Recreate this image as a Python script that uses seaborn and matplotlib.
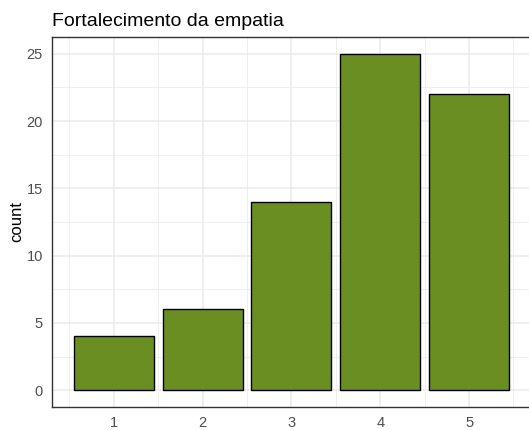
import matplotlib
matplotlib.use("Agg")
import matplotlib.pyplot as plt
import seaborn as sns
import pandas as pd
from matplotlib.ticker import MultipleLocator

# Response levels and how many answers fell into each
levels = [1, 2, 3, 4, 5]
counts = [4, 6, 14, 25, 22]

df = pd.DataFrame({"nivel": levels, "count": counts})

sns.set_theme(style="white")
plt.rcParams["font.family"] = ["Liberation Sans", "DejaVu Sans"]

fig = plt.figure(figsize=(5.29, 4.30), dpi=100)
ax = fig.add_axes([52 / 529, 1 - 407 / 430, 481 / 529, 370 / 430])

sns.barplot(data=df, x="nivel", y="count", native_scale=True, width=0.9,
            color="#6B8E23", saturation=1, edgecolor="black", linewidth=1.0,
            ax=ax, zorder=3)

ax.set_xlim(0.305, 5.72)
ax.set_ylim(-1.25, 26.25)
ax.xaxis.set_major_locator(MultipleLocator(1))
ax.xaxis.set_minor_locator(MultipleLocator(0.5))
ax.yaxis.set_major_locator(MultipleLocator(5))
ax.yaxis.set_minor_locator(MultipleLocator(2.5))

ax.grid(which="major", color="#EBEBEB", linewidth=1.1, zorder=0)
ax.grid(which="minor", color="#EBEBEB", linewidth=0.55, zorder=0)
ax.set_axisbelow(True)

for side in ["left", "bottom", "top", "right"]:
    ax.spines[side].set_color("#333333")
    ax.spines[side].set_linewidth(1.0)

ax.tick_params(axis="both", which="major", length=3.5, width=0.8, color="#333333",
               labelcolor="#4D4D4D", labelsize=10.5, pad=3)
ax.tick_params(axis="both", which="minor", length=0)
ax.set_xticks(levels)
ax.set_xticklabels([str(v) for v in levels])

ax.set_xlabel("")
ax.set_ylabel("count", fontsize=12, color="black", labelpad=2)
ax.set_title("Fortalecimento da empatia", loc="left", fontsize=14, color="black", pad=8)

fig.savefig("out.png", dpi=100)
